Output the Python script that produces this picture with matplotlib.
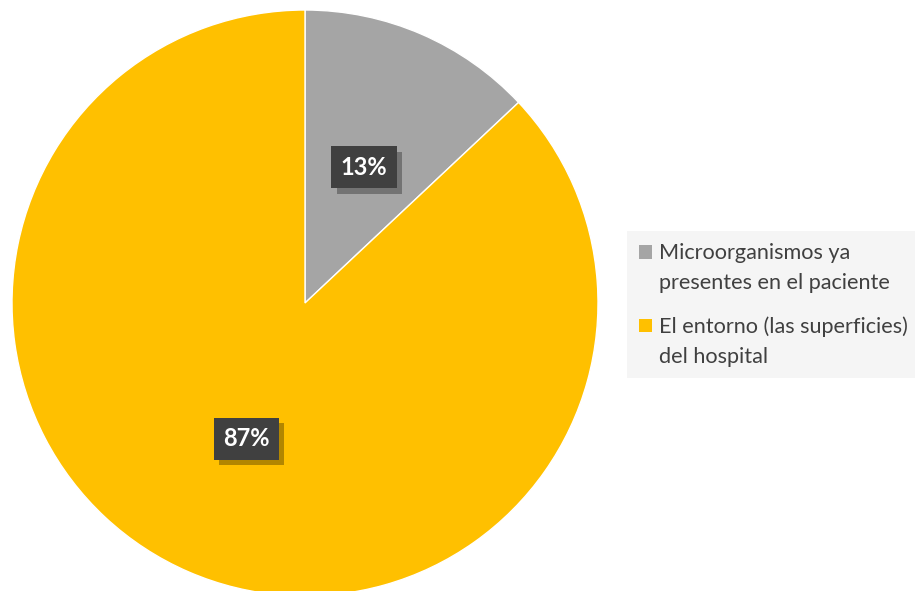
import matplotlib.pyplot as plt
from matplotlib.patches import Patch, Rectangle
from matplotlib.legend_handler import HandlerPatch
from matplotlib import patheffects as pe

plt.rcParams['font.family'] = ['Lato', 'DejaVu Sans']

labels = ["Microorganismos ya\npresentes en el paciente",
          "El entorno (las superficies)\ndel hospital"]
values = [13, 87]
colors = ['#a5a5a5', '#ffc000']

fig = plt.figure(figsize=(9.15, 5.91), dpi=100)
# pie axes placed so the circle runs a little past the bottom edge
ax = fig.add_axes([12/915, -5/591, 586/915, 586/591])

wedges, texts, autotexts = ax.pie(
    values, colors=colors, startangle=90, counterclock=False,
    radius=1, autopct='%d%%', pctdistance=0.505,
    wedgeprops=dict(edgecolor='white', linewidth=1),
    textprops=dict(color='white', fontsize=17, fontweight='bold'))
ax.set_xlim(-1, 1)
ax.set_ylim(-1, 1)
ax.set_aspect('equal')
ax.axis('off')

for t in autotexts:
    t.set_bbox(dict(boxstyle='square,pad=0.4', facecolor='#404040',
                    edgecolor='none'))
    t.get_bbox_patch().set_path_effects([
        pe.SimplePatchShadow(offset=(4, -4), shadow_rgbFace='black', alpha=0.3),
        pe.Normal()])


# square marker lined up with the first line of a two-line label
def top_square(legend, orig_handle, xdescent, ydescent, width, height, fontsize):
    return Rectangle((-xdescent, -ydescent + 0.75 * fontsize), width, height)


handles = [Patch(facecolor=c, edgecolor='none') for c in colors]
leg = fig.legend(handles, labels, loc='upper left',
                 bbox_to_anchor=(627/915, 1 - 231/591), borderaxespad=0,
                 fontsize=15.6, frameon=True, fancybox=False,
                 handlelength=0.6, handleheight=0.6, handletextpad=0.32,
                 labelspacing=1.1, borderpad=0.55, labelcolor='#404040',
                 handler_map={Patch: HandlerPatch(patch_func=top_square)})
for t in leg.get_texts():
    t.set_linespacing(1.6)
leg.get_frame().set_facecolor('#f5f5f5')
leg.get_frame().set_edgecolor('none')
leg.get_frame().set_alpha(1)

fig.savefig('out.png', dpi=100)
